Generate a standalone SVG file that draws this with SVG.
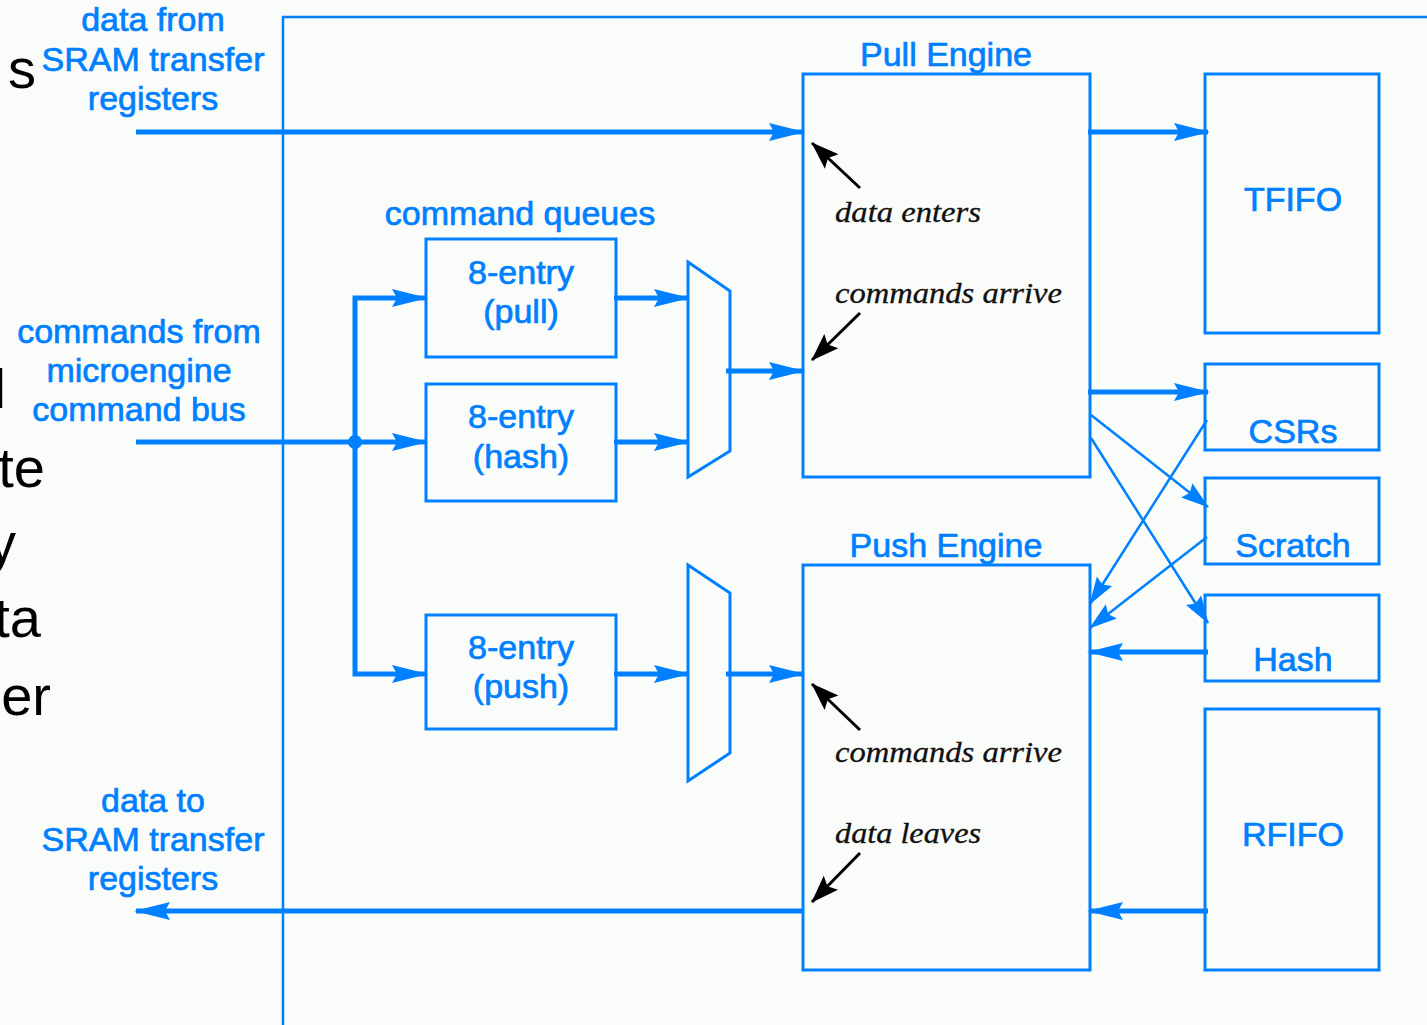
<svg xmlns="http://www.w3.org/2000/svg" width="1427" height="1025" viewBox="0 0 1427 1025">
<defs>
<style>
.bg{fill:#fafcfa}
.box{fill:none;stroke:#0080ff;stroke-width:3}
.frame{fill:none;stroke:#0080ff;stroke-width:2.5}
.wire{fill:none;stroke:#0080ff;stroke-width:5}
.thin{fill:none;stroke:#0080ff;stroke-width:2.5}
.blk{fill:none;stroke:#000;stroke-width:3}
.lbl{font-family:"Liberation Sans",Arial,sans-serif;font-size:34px;fill:#0080ff;stroke:#0080ff;stroke-width:0.7;text-anchor:middle}
.it{font-family:"Liberation Serif","Times New Roman",serif;font-style:italic;font-size:29px;fill:#111;stroke:#111;stroke-width:0.3}
.bg-text{font-family:"Liberation Sans",Arial,sans-serif;font-size:56px;fill:#000;text-anchor:end}
</style>
<marker id="ah" markerUnits="userSpaceOnUse" markerWidth="36" markerHeight="22" refX="34" refY="11" orient="auto">
<path d="M0,2 L36,11 L0,20 L5,11 z" fill="#0080ff"/>
</marker>
<marker id="ahs" markerUnits="userSpaceOnUse" markerWidth="28" markerHeight="20" refX="27" refY="10" orient="auto">
<path d="M0,1 L28,10 L0,19 L4,10 z" fill="#0080ff"/>
</marker>
<marker id="ahb" markerUnits="userSpaceOnUse" markerWidth="28" markerHeight="22" refX="27" refY="11" orient="auto">
<path d="M0,1 L28,11 L0,21 L5,11 z" fill="#000"/>
</marker>
</defs>
<rect class="bg" x="0" y="0" width="1427" height="1025"/>

<g id="background-text">
<text class="bg-text" x="36" y="88">s</text>
<text class="bg-text" x="6" y="408">l</text>
<text class="bg-text" x="45" y="487">te</text>
<text class="bg-text" x="16" y="562">y</text>
<text class="bg-text" x="41" y="637">ta</text>
<text class="bg-text" x="51" y="715">er</text>
</g>

<g id="frame">
<path class="frame" d="M283,1025 V17 H1427"/>
</g>

<g id="labels">
<text class="lbl" x="153" y="31">data from</text>
<text class="lbl" x="153" y="71">SRAM transfer</text>
<text class="lbl" x="153" y="110">registers</text>
<text class="lbl" x="139" y="343">commands from</text>
<text class="lbl" x="139" y="382">microengine</text>
<text class="lbl" x="139" y="421">command bus</text>
<text class="lbl" x="153" y="812">data to</text>
<text class="lbl" x="153" y="851">SRAM transfer</text>
<text class="lbl" x="153" y="890">registers</text>
<text class="lbl" x="520" y="225">command queues</text>
</g>

<g id="queue-pull">
<rect class="box" x="426" y="239" width="190" height="118"/>
<text class="lbl" x="521" y="284">8-entry</text>
<text class="lbl" x="521" y="323">(pull)</text>
</g>
<g id="queue-hash">
<rect class="box" x="426" y="384" width="190" height="117"/>
<text class="lbl" x="521" y="428">8-entry</text>
<text class="lbl" x="521" y="468">(hash)</text>
</g>
<g id="queue-push">
<rect class="box" x="426" y="615" width="190" height="114"/>
<text class="lbl" x="521" y="659">8-entry</text>
<text class="lbl" x="521" y="698">(push)</text>
</g>

<g id="mux-pull">
<path class="box" d="M688,262 L730,291 V451 L688,477 Z"/>
</g>
<g id="mux-push">
<path class="box" d="M688,565 L730,593 V753 L688,781 Z"/>
</g>

<g id="pull-engine">
<text class="lbl" x="946" y="66">Pull Engine</text>
<rect class="box" x="803" y="74" width="287" height="403"/>
<text class="it" x="835" y="222" textLength="146" lengthAdjust="spacingAndGlyphs">data enters</text>
<text class="it" x="835" y="303" textLength="227" lengthAdjust="spacingAndGlyphs">commands arrive</text>
<line class="blk" x1="860" y1="188" x2="812" y2="143" marker-end="url(#ahb)"/>
<line class="blk" x1="860" y1="313" x2="812" y2="360" marker-end="url(#ahb)"/>
</g>

<g id="push-engine">
<text class="lbl" x="946" y="557">Push Engine</text>
<rect class="box" x="803" y="565" width="287" height="405"/>
<text class="it" x="835" y="762" textLength="227" lengthAdjust="spacingAndGlyphs">commands arrive</text>
<text class="it" x="835" y="843" textLength="146" lengthAdjust="spacingAndGlyphs">data leaves</text>
<line class="blk" x1="860" y1="730" x2="812" y2="684" marker-end="url(#ahb)"/>
<line class="blk" x1="860" y1="853" x2="812" y2="902" marker-end="url(#ahb)"/>
</g>

<g id="tfifo">
<rect class="box" x="1205" y="74" width="174" height="259"/>
<text class="lbl" x="1293" y="211">TFIFO</text>
</g>
<g id="csrs">
<rect class="box" x="1205" y="364" width="174" height="86"/>
<text class="lbl" x="1293" y="443">CSRs</text>
</g>
<g id="scratch">
<rect class="box" x="1205" y="478" width="174" height="86"/>
<text class="lbl" x="1293" y="557">Scratch</text>
</g>
<g id="hash">
<rect class="box" x="1205" y="595" width="174" height="86"/>
<text class="lbl" x="1293" y="671">Hash</text>
</g>
<g id="rfifo">
<rect class="box" x="1205" y="709" width="174" height="261"/>
<text class="lbl" x="1293" y="846">RFIFO</text>
</g>

<g id="connectors">
<line class="wire" x1="136" y1="132" x2="803" y2="132" marker-end="url(#ah)"/>
<line class="wire" x1="1088" y1="132" x2="1208" y2="132" marker-end="url(#ah)"/>
<line class="wire" x1="136" y1="442" x2="426" y2="442" marker-end="url(#ah)"/>
<path class="wire" d="M355,442 V298 H426" marker-end="url(#ah)"/>
<path class="wire" d="M355,442 V674 H426" marker-end="url(#ah)"/>
<circle cx="355" cy="442" r="7" fill="#0080ff"/>
<line class="wire" x1="614" y1="298" x2="688" y2="298" marker-end="url(#ah)"/>
<line class="wire" x1="614" y1="442" x2="688" y2="442" marker-end="url(#ah)"/>
<line class="wire" x1="614" y1="674" x2="688" y2="674" marker-end="url(#ah)"/>
<line class="wire" x1="726" y1="371" x2="803" y2="371" marker-end="url(#ah)"/>
<line class="wire" x1="726" y1="674" x2="803" y2="674" marker-end="url(#ah)"/>
<line class="wire" x1="1088" y1="392" x2="1208" y2="392" marker-end="url(#ah)"/>
<line class="thin" x1="1091" y1="415" x2="1208" y2="507" marker-end="url(#ahs)"/>
<line class="thin" x1="1091" y1="438" x2="1208" y2="623" marker-end="url(#ahs)"/>
<line class="thin" x1="1207" y1="420" x2="1090" y2="604" marker-end="url(#ahs)"/>
<line class="thin" x1="1207" y1="537" x2="1090" y2="628" marker-end="url(#ahs)"/>
<line class="wire" x1="1208" y1="652" x2="1089" y2="652" marker-end="url(#ah)"/>
<line class="wire" x1="1208" y1="911" x2="1089" y2="911" marker-end="url(#ah)"/>
<line class="wire" x1="803" y1="911" x2="136" y2="911" marker-end="url(#ah)"/>
</g>
</svg>
